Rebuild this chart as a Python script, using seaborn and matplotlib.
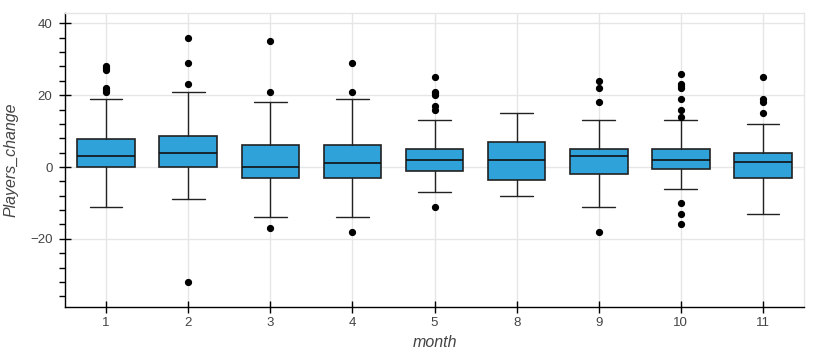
import matplotlib
matplotlib.use("Agg")
import matplotlib.pyplot as plt
import seaborn as sns
from matplotlib.ticker import MultipleLocator

# Summary statistics (Players_change by month)
months = ["1", "2", "3", "4", "5", "8", "9", "10", "11"]
q1 = [0, 0, -3, -3, -1, -3.5, -2, -0.5, -3]
median = [3, 4, 0, 1, 2, 2, 3, 2, 1.5]
q3 = [7.75, 8.5, 6, 6, 5, 7, 5, 5, 4]
whisker_low = [-11, -9, -14, -14, -7, -8, -11, -6, -13]
whisker_high = [19, 21, 18, 19, 13, 15, 13, 13, 12]
outliers = [
    [28, 27.5, 27, 22, 21.5, 21],
    [36, 29, 23, -32],
    [35, 21, -17],
    [29, 21, -18],
    [25, 21, 20.5, 20, 17, 16, -11],
    [],
    [24, 22, 18, -18],
    [26, 23, 22.5, 22, 19, 16, 14, -10, -13, -16],
    [25, 19, 18, 15],
]

stats = []
for i, m in enumerate(months):
    stats.append({
        "label": m, "q1": q1[i], "med": median[i], "q3": q3[i],
        "whislo": whisker_low[i], "whishi": whisker_high[i], "fliers": outliers[i],
    })

sns.set_style("ticks")
plt.rcParams["font.family"] = ["Liberation Sans", "DejaVu Sans"]

fig = plt.figure(figsize=(8.4, 3.6), dpi=100)
ax = fig.add_axes([0.0774, 0.147, 0.8798, 0.818])

ax.bxp(
    stats, positions=range(len(months)), widths=0.7, capwidths=0.4,
    patch_artist=True,
    boxprops=dict(facecolor="#30a2da", edgecolor="#222222", linewidth=1.2),
    medianprops=dict(color="#111111", linewidth=1.2),
    whiskerprops=dict(color="#222222", linewidth=1.0),
    capprops=dict(color="#222222", linewidth=1.0),
    flierprops=dict(marker="o", markerfacecolor="black", markeredgecolor="black",
                    markersize=4.2, linestyle="none"),
    zorder=3,
)

ax.set_xlim(-0.5, len(months) - 0.5)
ax.set_ylim(-39, 43)
ax.set_xticks(range(len(months)))
ax.set_xticklabels(months)
ax.yaxis.set_major_locator(MultipleLocator(20))
ax.yaxis.set_minor_locator(MultipleLocator(4))

ax.grid(True, which="major", color="#e6e6e6", linewidth=1.0, zorder=0)
ax.set_axisbelow(True)

for side in ["top", "right"]:
    ax.spines[side].set_color("#e6e6e6")
    ax.spines[side].set_linewidth(1.0)
for side in ["left", "bottom"]:
    ax.spines[side].set_color("black")
    ax.spines[side].set_linewidth(1.0)

ax.tick_params(axis="both", which="major", direction="inout", length=8, width=1,
               color="black", labelsize=9.5, labelcolor="#444444")
ax.tick_params(axis="y", which="major", pad=5)
ax.tick_params(axis="y", which="minor", direction="out", length=4, width=1, color="black")
ax.tick_params(axis="x", which="minor", bottom=False)

ax.set_xlabel("month", fontsize=11.5, fontstyle="italic", color="#444444")
ax.set_ylabel("Players_change", fontsize=11.5, fontstyle="italic", color="#444444",
              labelpad=8)

fig.savefig("out.png", dpi=100)
